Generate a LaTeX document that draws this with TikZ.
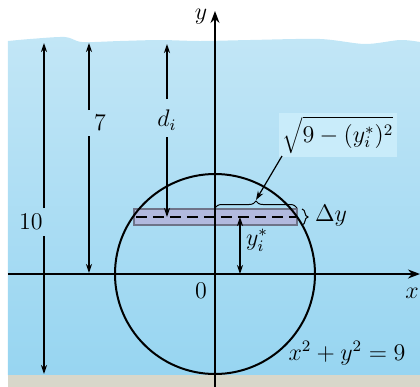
\documentclass[tikz,border=0pt]{standalone}
\usetikzlibrary{arrows.meta,decorations.pathreplacing}
\definecolor{watertop}{HTML}{C2E6F6}
\definecolor{waterbot}{HTML}{97D5F1}
\definecolor{ground}{HTML}{D8D7CA}
\definecolor{stripfill}{HTML}{B2B9DE}
\definecolor{stripedge}{HTML}{6E7388}
\definecolor{labelbg}{HTML}{C9ECFA}
\begin{document}
\begin{tikzpicture}[x=0.5pt,y=-0.5pt,
  lbl/.style={font=\fontsize{12}{14}\selectfont, inner sep=1pt},
  dim/.style={-{Stealth[length=4.5pt,width=3pt]}, line width=0.6pt},
  axis/.style={-{Stealth[length=6pt,width=4.5pt]}, line width=0.75pt}]
\useasboundingbox (0,0) rectangle (420,387);
% water
\shade[top color=watertop, bottom color=waterbot]
  plot[smooth] coordinates {(8,41) (30,39) (65,37) (82,42) (120,41) (160,40) (200,41) (250,40) (320,39) (365,44) (400,40) (420,42)}
  -- (420,375) -- (8,375) -- cycle;
% ground
\fill[ground] (8,375) rectangle (420,387);
% strip
\node[draw=stripedge, fill=stripfill, line width=0.6pt, minimum width=81.5pt, minimum height=8pt, inner sep=0pt] (strip) at (215.5,217) {};
\draw[dashed, dash pattern=on 5.5pt off 3pt, line width=0.7pt] (136,217) -- (296,217);
% circle
\node[draw, circle, line width=1pt, minimum size=100pt, inner sep=0pt] (circ) at (215,274) {};
% axes
\coordinate (O) at (215,274);
\coordinate (ybot) at (215,387);
\coordinate (ytop) at (215,11);
\coordinate (xl) at (8,274);
\coordinate (xr) at (420,274);
\draw[axis] (ybot) -- (ytop);
\draw[axis] (xl) -- (xr);
\node[lbl] (ylab) at (201,17) {$y$};
\node[lbl] (xlab) at (412,293) {$x$};
\node[lbl] (zero) at (201,291) {$0$};
% 10 arrow
\node[lbl] (ten) at (31,222) {$10$};
\coordinate (t1) at (44,43);
\coordinate (t2) at (44,374);
\draw[dim] (44,208) -- (t1);
\draw[dim] (44,236) -- (t2);
% 7 arrow
\node[lbl] (seven) at (100,123) {$7$};
\coordinate (s1) at (89,43);
\coordinate (s2) at (89,273);
\draw[dim] (89,110) -- (s1);
\draw[dim] (89,136) -- (s2);
% d_i arrow
\node[lbl] (di) at (167,120) {$d_i$};
\coordinate (d1) at (167,44);
\coordinate (d2) at (167,217);
\draw[dim] (167,99) -- (d1);
\draw[dim] (167,137) -- (d2);
% y_i^* arrow
\coordinate (yi1) at (240,217);
\coordinate (yi2) at (240,274);
\draw[dim, {Stealth[length=4.5pt,width=3pt]}-{Stealth[length=4.5pt,width=3pt]}] (yi1) -- (yi2);
\node[lbl] (yilab) at (257,240) {$y_i^*$};
% brace over half strip
\draw[decorate, decoration={brace, amplitude=3.5pt}, line width=0.5pt] (215,208) -- (297,208);
\coordinate (btip) at (256,200);
\node[lbl, fill=labelbg, inner sep=2pt] (sq) at (338,135) {$\sqrt{9-(y_i^*)^2}$};
\draw[dim] (282,156) -- (btip);
% delta y brace
\draw[decorate, decoration={brace, amplitude=3pt}, line width=0.5pt] (302,209) -- (302,225);
\node[lbl] (dy) at (331,216) {$\Delta y$};
% equation
\node[lbl] (eq) at (347,353) {$x^2+y^2=9$};
\end{tikzpicture}
\end{document}
